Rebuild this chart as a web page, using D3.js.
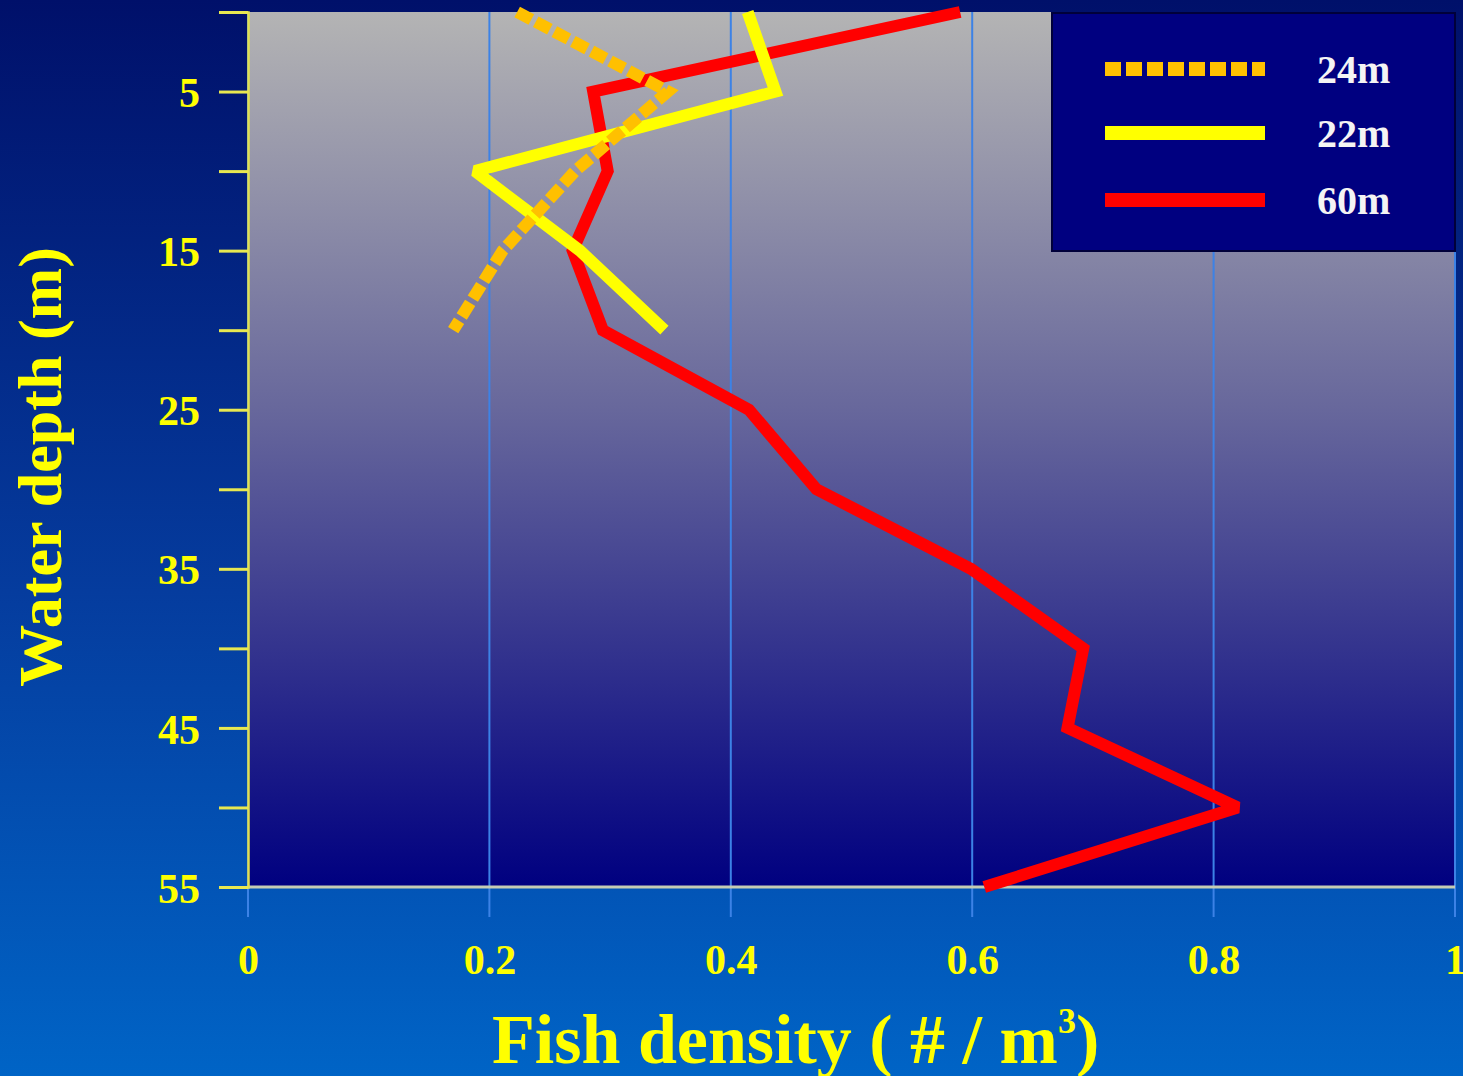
<!DOCTYPE html>
<html>
<head>
<meta charset="utf-8">
<script src="https://cdn.jsdelivr.net/npm/d3@7"></script>
<style>
  html, body { margin: 0; padding: 0; overflow: hidden; background: #0040a0; }
  svg { display: block; }
</style>
</head>
<body>
<svg id="chart" width="1463" height="1076"></svg>
<script>
// ---- data ----
const depthAll = [0, 5, 10, 15, 20, 25, 30, 35, 40, 45, 50, 55];
const depthShallow = [0, 5, 10, 15, 20];
const density60m = [0.59, 0.286, 0.298, 0.269, 0.294, 0.415, 0.471, 0.599, 0.692, 0.679, 0.82, 0.61];
const density22m = [0.414, 0.437, 0.188, 0.275, 0.345];
const density24m = [0.223, 0.348, 0.271, 0.211, 0.170];
const seriesNames = ["24m", "22m", "60m"];
const xTickValues = [0, 0.2, 0.4, 0.6, 0.8, 1];
const xTickLabels = ["0", "0.2", "0.4", "0.6", "0.8", "1"];
const yTickValues = [0, 5, 10, 15, 20, 25, 30, 35, 40, 45, 50, 55];
const yTickLabels = ["", "5", "", "15", "", "25", "", "35", "", "45", "", "55"];
const xTitle = "Fish density ( # / m";
const xTitleSup = "3";
const yTitle = "Water depth (m)";

(function () {
// ---- layout ----
const W = 1463, H = 1076;
const pLeft = 248, pRight = 1455, pTop = 12, pBottom = 887;
const FONT = "'Liberation Serif', 'Times New Roman', serif";

const svg = d3.select("#chart");
const defs = svg.append("defs");

const bgGrad = defs.append("linearGradient").attr("id", "bgGrad")
  .attr("x1", 0).attr("y1", 0).attr("x2", 0).attr("y2", 1);
bgGrad.append("stop").attr("offset", "0%").attr("stop-color", "#00106a");
bgGrad.append("stop").attr("offset", "55%").attr("stop-color", "#053c9e");
bgGrad.append("stop").attr("offset", "100%").attr("stop-color", "#0064c6");

const plotGrad = defs.append("linearGradient").attr("id", "plotGrad")
  .attr("x1", 0).attr("y1", 0).attr("x2", 0).attr("y2", 1);
plotGrad.append("stop").attr("offset", "0%").attr("stop-color", "#b4b4b4");
plotGrad.append("stop").attr("offset", "45%").attr("stop-color", "#68689c");
plotGrad.append("stop").attr("offset", "100%").attr("stop-color", "#000080");

svg.append("rect").attr("x", 0).attr("y", 0).attr("width", W).attr("height", H)
  .attr("fill", "url(#bgGrad)");

const x = d3.scaleLinear().domain([0, 1]).range([pLeft, pRight]);
const y = d3.scaleLinear().domain([0, 55]).range([pTop, pBottom]);

// plot area
svg.append("rect").attr("x", pLeft).attr("y", pTop)
  .attr("width", pRight - pLeft).attr("height", pBottom - pTop)
  .attr("fill", "url(#plotGrad)");

// vertical gridlines (extend below axis)
svg.append("g").selectAll("line").data(xTickValues).join("line")
  .attr("x1", d => x(d)).attr("x2", d => x(d))
  .attr("y1", pTop).attr("y2", pBottom + 30)
  .attr("stroke", "#3c82e6").attr("stroke-width", 2);

// x axis line
svg.append("line").attr("x1", pLeft).attr("x2", pRight)
  .attr("y1", pBottom).attr("y2", pBottom)
  .attr("stroke", "#c4ccb4").attr("stroke-width", 3);

// x axis labels via d3 axis
const xAxis = d3.axisBottom(x).tickValues(xTickValues)
  .tickFormat((d, i) => xTickLabels[i]).tickSize(0).tickPadding(87);
const gx = svg.append("g").attr("transform", `translate(0,${pBottom})`).call(xAxis);
gx.select(".domain").remove();
gx.selectAll("text").attr("fill", "#ffff00").attr("font-family", FONT)
  .attr("font-weight", "bold").attr("font-size", 42).attr("dy", "0");

// y axis
const yAxis = d3.axisLeft(y).tickValues(yTickValues)
  .tickFormat((d, i) => yTickLabels[i]).tickSize(29).tickPadding(19);
const gy = svg.append("g").attr("transform", `translate(${pLeft},0)`).call(yAxis);
gy.select(".domain").attr("stroke", "#e0e050").attr("stroke-width", 2.5);
gy.selectAll(".tick line").attr("stroke", "#e8e850").attr("stroke-width", 3);
gy.selectAll("text").attr("fill", "#ffff00").attr("font-family", FONT)
  .attr("font-weight", "bold").attr("font-size", 42).attr("dy", "0.36em");

// lines
const lineGen = d3.line().x(d => x(d[0])).y(d => y(d[1])).curve(d3.curveLinear);
const s60 = density60m.map((v, i) => [v, depthAll[i]]);
const s22 = density22m.map((v, i) => [v, depthShallow[i]]);
const s24 = density24m.map((v, i) => [v, depthShallow[i]]);

svg.append("path").attr("d", lineGen(s60)).attr("fill", "none")
  .attr("stroke", "#ff0000").attr("stroke-width", 12)
  .attr("stroke-linejoin", "miter").attr("stroke-miterlimit", 2);
svg.append("path").attr("d", lineGen(s22)).attr("fill", "none")
  .attr("stroke", "#ffff00").attr("stroke-width", 12)
  .attr("stroke-linejoin", "miter").attr("stroke-miterlimit", 2);
svg.append("path").attr("d", lineGen(s24)).attr("fill", "none")
  .attr("stroke", "#ffc000").attr("stroke-width", 12).attr("stroke-dasharray", "16,5")
  .attr("stroke-linejoin", "miter").attr("stroke-miterlimit", 2);

// legend
const lg = svg.append("g");
lg.append("rect").attr("x", 1052).attr("y", 13).attr("width", 403).attr("height", 238)
  .attr("fill", "#000080").attr("stroke", "#00003a").attr("stroke-width", 2);
const legendItems = [
  { name: seriesNames[0], color: "#ffc000", dash: "16,5", y: 69 },
  { name: seriesNames[1], color: "#ffff00", dash: null, y: 133 },
  { name: seriesNames[2], color: "#ff0000", dash: null, y: 200 }
];
legendItems.forEach(it => {
  lg.append("line").attr("x1", 1105).attr("x2", 1265).attr("y1", it.y).attr("y2", it.y)
    .attr("stroke", it.color).attr("stroke-width", 14)
    .attr("stroke-dasharray", it.dash);
  lg.append("text").attr("x", 1317).attr("y", it.y + 14)
    .attr("fill", "#f4f4f4").attr("font-family", FONT).attr("font-weight", "bold")
    .attr("font-size", 40).text(it.name);
});

// axis titles
const xt = svg.append("text").attr("x", 492).attr("y", 1063)
  .attr("fill", "#ffff00").attr("font-family", FONT).attr("font-weight", "bold")
  .attr("font-size", 70);
xt.append("tspan").text(xTitle);
xt.append("tspan").attr("font-size", 36).attr("dy", -30).text(xTitleSup);
xt.append("tspan").attr("dy", 30).text(")");

svg.append("text").attr("transform", "translate(61,467) rotate(-90)")
  .attr("text-anchor", "middle")
  .attr("fill", "#ffff00").attr("font-family", FONT).attr("font-weight", "bold")
  .attr("font-size", 62).text(yTitle);
})();
</script>
</body>
</html>
